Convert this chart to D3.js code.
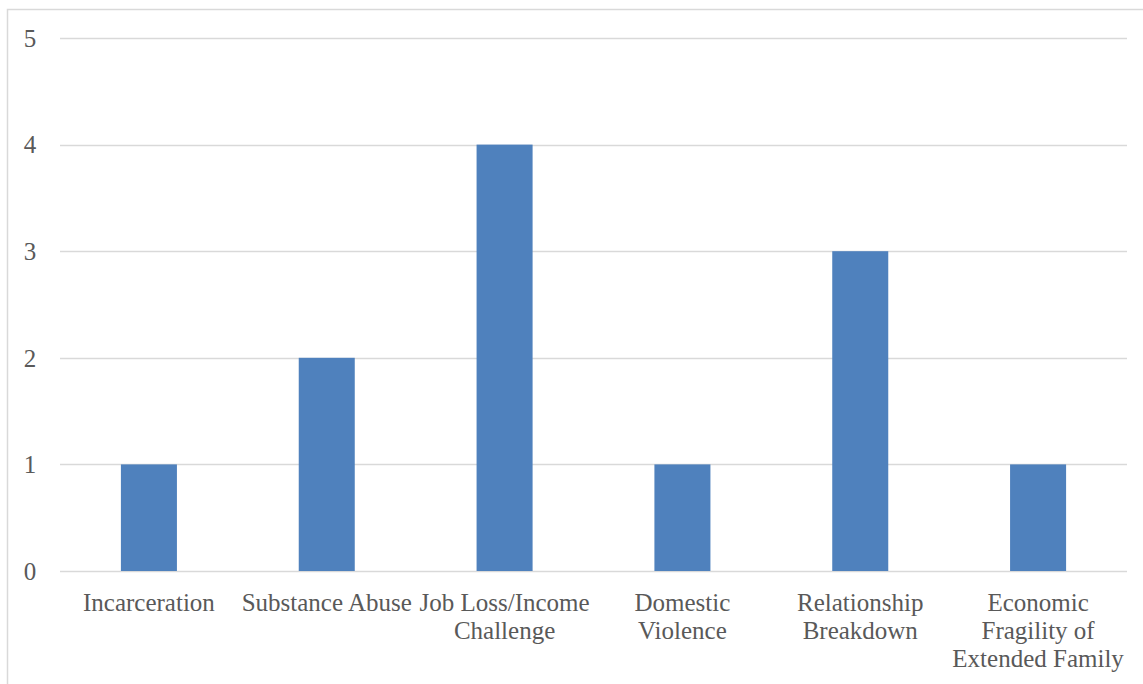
<!DOCTYPE html>
<html><head><meta charset="utf-8">
<script src="https://cdn.jsdelivr.net/npm/d3@7"></script>
<style>body{margin:0;background:#fff}svg{display:block}</style>
</head><body>
<svg id="c" width="1143" height="684"></svg>
<script>
const categories = ["Incarceration","Substance Abuse","Job Loss/Income Challenge","Domestic Violence","Relationship Breakdown","Economic Fragility of Extended Family"];
const labelLines = [["Incarceration"],["Substance Abuse"],["Job Loss/Income","Challenge"],["Domestic","Violence"],["Relationship","Breakdown"],["Economic","Fragility of","Extended Family"]];
const values = [1,2,4,1,3,1];
const yTicks = [0,1,2,3,4,5];

const svg = d3.select("#c");
const font = "'Liberation Serif', serif";
svg.append("rect").attr("x",7.5).attr("y",9.5).attr("width",1160).attr("height",700)
  .attr("fill","#fff").attr("stroke","#d9d9d9").attr("stroke-width",1.5);

const x = d3.scaleBand().domain(categories).range([60,1127]).padding(0);
const y = d3.scaleLinear().domain([0,5]).range([571,38]);

svg.append("g").selectAll("line").data(yTicks).join("line")
  .attr("x1",60).attr("x2",1127)
  .attr("y1",d=>Math.round(y(d))+0.5).attr("y2",d=>Math.round(y(d))+0.5)
  .attr("stroke","#d9d9d9").attr("stroke-width",1.5);

svg.append("g").selectAll("text").data(yTicks).join("text")
  .attr("x",30).attr("y",d=>y(d)).attr("dy","0.35em").attr("text-anchor","middle")
  .attr("font-family",font).attr("font-size",25).attr("fill","#595959").text(d=>d);

const bw = x.bandwidth()*0.315;
svg.append("g").selectAll("rect").data(values).join("rect")
  .attr("x",(d,i)=>x(categories[i])+x.bandwidth()/2-bw/2)
  .attr("width",bw)
  .attr("y",d=>y(d)).attr("height",d=>y(0)-y(d))
  .attr("fill","#4f81bd");

const lg = svg.append("g");
categories.forEach((c,i)=>{
  const t = lg.append("text").attr("text-anchor","middle")
    .attr("font-family",font).attr("font-size",25).attr("fill","#595959");
  labelLines[i].forEach((l,j)=>{
    t.append("tspan").attr("x",x(c)+x.bandwidth()/2).attr("y",611+j*28).text(l);
  });
});
</script>
</body></html>
